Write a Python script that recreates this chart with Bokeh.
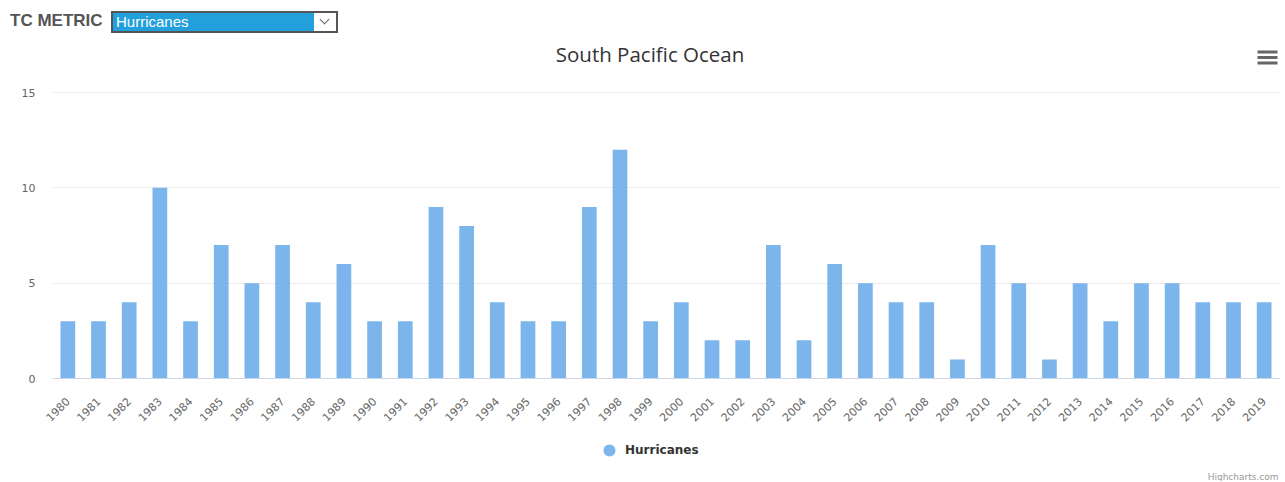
import math
from bokeh.plotting import figure
from bokeh.models import (Div, Label, Legend, LegendItem, FixedTicker, BoxAnnotation,
                          Range1d, FactorRange)
from bokeh.layouts import column
from bokeh.embed import file_html
from bokeh.resources import INLINE

# ---- data ----
years = [str(y) for y in range(1980, 2020)]
hurricanes = [3, 3, 4, 10, 3, 7, 5, 7, 4, 6,
              3, 3, 9, 8, 4, 3, 3, 9, 12, 3,
              4, 2, 2, 7, 2, 6, 5, 4, 4, 1,
              7, 5, 1, 5, 3, 5, 5, 4, 4, 4]
y_ticks = [0, 5, 10, 15]
series_name = "Hurricanes"
title_text = "South Pacific Ocean"
metric_label = "TC METRIC"
metric_choice = "Hurricanes"
credits_text = "Highcharts.com"

BAR = "#7cb5ec"
FONT = "DejaVu Sans"
TFONT = "Open Sans"

# ---- header (select control) ----
header_html = f"""
<div style="position:relative;width:1284px;height:38px;font-family:'Liberation Sans',Arial,sans-serif;">
  <span style="position:absolute;left:10px;top:11px;font-size:17px;line-height:20px;font-weight:bold;color:#555;white-space:nowrap;">{metric_label}</span>
  <div style="position:absolute;left:111px;top:11px;width:227px;height:22px;box-sizing:border-box;border:2px solid #555;background:#22a0dc;">
    <span style="position:absolute;left:3px;top:0px;font-size:15px;line-height:18px;color:#fff;white-space:nowrap;">{metric_choice}</span>
    <div style="position:absolute;right:0px;top:0px;width:22px;height:18px;background:#fff;">
      <div style="position:absolute;left:7px;top:3px;width:7px;height:7px;border-right:1px solid #666;border-bottom:1px solid #666;transform:rotate(45deg);"></div>
    </div>
  </div>
</div>
"""
header = Div(text=header_html, width=1284, height=38, margin=0)

# ---- chart ----
# the frame reaches up to the header; its top part (above 15) holds the title and menu icon
p = figure(x_range=FactorRange(*years), y_range=Range1d(0, 15 + 54 / (286 / 15)),
           width=1284, height=390, output_backend="svg", toolbar_location=None,
           min_border_left=52, min_border_right=5, min_border_top=0, min_border_bottom=50)
p.title.visible = False

p.vbar(x=years, top=hurricanes, width=0.48, fill_color=BAR, line_color=None)

p.outline_line_color = None
p.xgrid.grid_line_color = None
p.ygrid.grid_line_color = "#ebebeb"
p.yaxis.ticker = FixedTicker(ticks=y_ticks)

p.yaxis.axis_line_color = None
p.yaxis.major_tick_line_color = None
p.yaxis.minor_tick_line_color = None
p.yaxis.major_tick_out = 0
p.yaxis.major_tick_in = 0
p.yaxis.major_label_standoff = 17
p.yaxis.major_label_text_font = FONT
p.yaxis.major_label_text_font_size = "11px"
p.yaxis.major_label_text_color = "#666666"

p.xaxis.axis_line_color = "#ccd6eb"
p.xaxis.major_tick_line_color = None
p.xaxis.major_tick_out = 0
p.xaxis.major_tick_in = 0
p.xaxis.major_label_standoff = 21
p.xaxis.major_label_orientation = math.pi / 4
p.xaxis.major_label_text_font = FONT
p.xaxis.major_label_text_font_size = "11px"
p.xaxis.major_label_text_color = "#666666"

p.add_layout(Label(x=597.5, y=325, x_units="screen", y_units="screen", text=title_text,
                   text_align="center", text_baseline="middle", text_font=TFONT,
                   text_font_size="20.5px", text_color="#333333"))

for top in (328, 322.5, 317):
    p.add_layout(BoxAnnotation(left=1205, right=1225, top=top, bottom=top - 3,
                               left_units="screen", right_units="screen",
                               top_units="screen", bottom_units="screen",
                               fill_color="#666666", fill_alpha=1, line_color=None))

# ---- footer: legend + credits ----
f = figure(x_range=Range1d(0, 1), y_range=Range1d(0, 1), width=1284, height=53,
           output_backend="svg", toolbar_location=None, x_axis_type=None, y_axis_type=None,
           min_border_left=52, min_border_right=5, min_border_top=0, min_border_bottom=0)
f.title.visible = False
f.outline_line_color = None
f.xgrid.visible = False
f.ygrid.visible = False
# legend proxy (hidden renderer, only its legend swatch is shown)
proxy = f.scatter(x=[0], y=[0], marker="circle", size=11, fill_color=BAR, line_color=None,
                  visible=False)
legend = Legend(items=[LegendItem(label=series_name, renderers=[proxy])],
                location=(542, 16), orientation="horizontal",
                border_line_color=None, background_fill_alpha=0,
                inactive_fill_alpha=0,
                padding=0, margin=0, spacing=0,
                glyph_width=30, glyph_height=30, label_height=14, label_standoff=1,
                label_text_font=FONT, label_text_font_size="12px",
                label_text_font_style="bold", label_text_color="#333333")
f.add_layout(legend)
f.add_layout(Label(x=1226, y=5, x_units="screen", y_units="screen", text=credits_text,
                   text_align="right", text_baseline="middle", text_font=FONT,
                   text_font_size="9px", text_color="#999999"))

layout = column(header, p, f, spacing=0)
open("out.html", "w").write(file_html(layout, INLINE))
